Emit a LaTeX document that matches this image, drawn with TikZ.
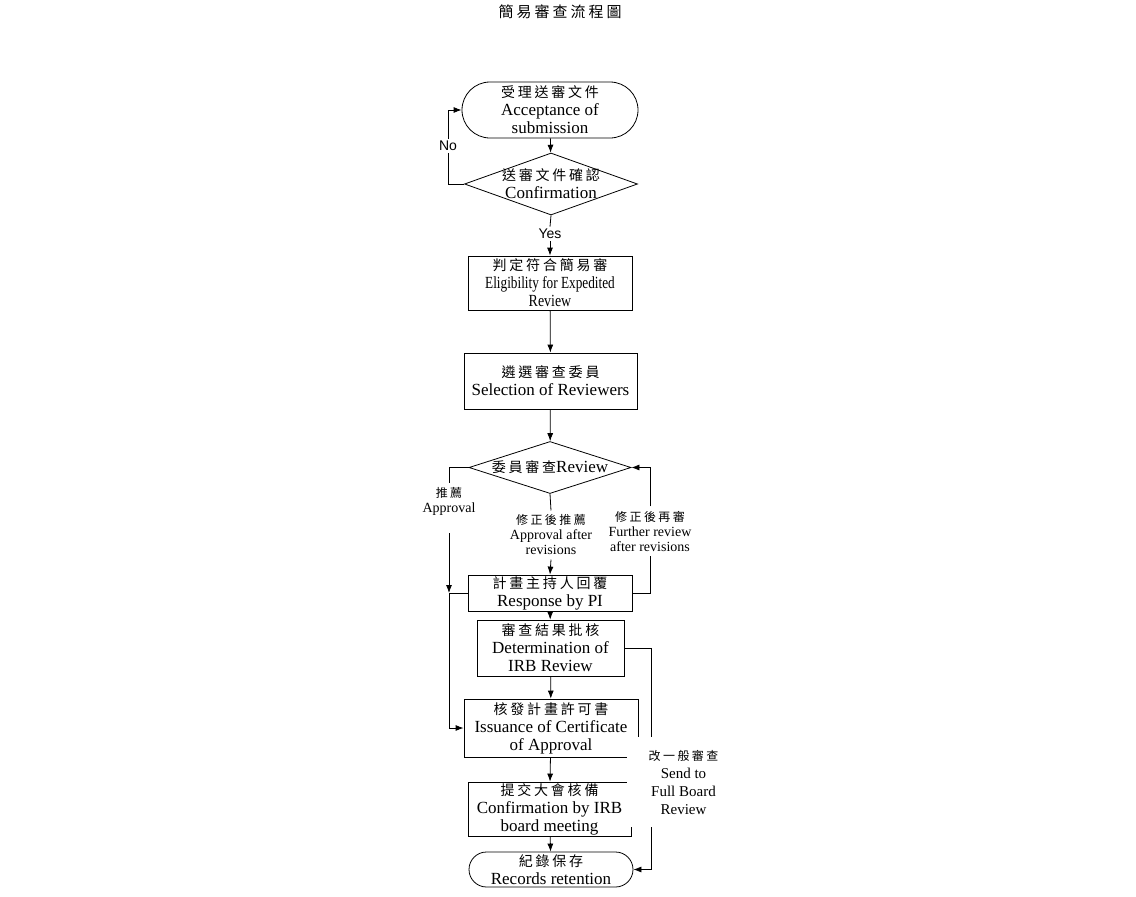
\documentclass[tikz,border=0pt]{standalone}
\usepackage{graphicx}
\usepackage{fontspec}
\setmainfont{Liberation Serif}
\newfontfamily\cjk[LetterSpace=20]{Noto Sans CJK TC}
\newfontfamily\arial{Liberation Sans}
\usetikzlibrary{arrows.meta,shapes.geometric}
\newcommand{\zh}[1]{{\fontsize{14}{18}\cjk #1}}
\newcommand{\zhs}[1]{{\fontsize{12}{15}\cjk #1}}
\begin{document}
\begin{tikzpicture}[x=1pt,y=-1pt,>={Latex[length=8pt,width=6pt]},line width=0.8pt,
  box/.style={draw,rectangle,align=center,inner sep=0pt,font=\fontsize{17}{18}\selectfont},
  decision/.style={draw,diamond,inner sep=0pt},
  dtext/.style={align=center,inner sep=0pt,font=\fontsize{17}{18}\selectfont},
  lbl/.style={inner sep=2pt,font=\fontsize{14}{15}\arial},
  note/.style={align=center,inner sep=4pt,font=\fontsize{14}{15}\selectfont}]
\useasboundingbox (0,0) rectangle (1136,897);
\node (title) at (560,12) {\fontsize{15}{16}\cjk 簡易審查流程圖};
\node[box,rounded corners=28pt,minimum width=176pt,minimum height=56pt] (start) at (550,110) {\zh{受理送審文件}\\Acceptance of\\submission};
\node[decision,minimum width=173pt,minimum height=62pt] (d1) at (551,184) {};
\node[dtext] (d1t) at (d1) {\zh{送審文件確認}\\Confirmation};
\node[box,minimum width=164pt,minimum height=54pt] (elig) at (550,283) {\zh{判定符合簡易審}\\\scalebox{0.78}[1]{Eligibility for Expedited}\\\scalebox{0.82}[1]{Review}};
\node[box,minimum width=173pt,minimum height=56pt] (sel) at (550.5,381) {\zh{遴選審查委員}\\Selection of Reviewers};
\node[decision,minimum width=162pt,minimum height=52pt] (d2) at (550,467.5) {};
\node[dtext] (d2t) at (d2) {\zh{委員審查}Review};
\node[box,minimum width=164pt,minimum height=36pt] (pi) at (550,593) {\zh{計畫主持人回覆}\\Response by PI};
\node[box,minimum width=147pt,minimum height=56pt] (det) at (550.5,648) {\zh{審查結果批核}\\Determination of\\IRB Review};
\node[box,minimum width=174pt,minimum height=58pt] (iss) at (551,728) {\zh{核發計畫許可書}\\Issuance of Certificate\\of Approval};
\node[box,minimum width=163pt,minimum height=54pt] (conf) at (549.5,809) {\zh{提交大會核備}\\Confirmation by IRB\\board meeting};
\node[box,rounded corners=17.5pt,minimum width=164pt,minimum height=35pt] (rec) at (551,869.5) {\zh{紀錄保存}\\Records retention};
% labels on the connectors
\node[lbl] (no) at (448,146) {No};
\node[lbl] (yes) at (550,234) {Yes};
\node[note] (appr) at (449,501) {\zhs{推薦}\\Approval};
\node[note] (arev) at (551,535) {\zhs{修正後推薦}\\Approval after\\revisions};
\node[note] (frev) at (650,531) {\zhs{修正後再審}\\Further review\\after revisions};
\node[note,fill=white,font=\fontsize{15}{18}\selectfont,minimum width=113pt,minimum height=90pt] (full) at (683.5,782) {\zhs{改一般審查}\\Send to\\Full Board\\Review};
\coordinate (rt) at (651,648);
% connectors
\path[draw,->] (start) -- (d1);
\path[draw] (d1.west) -| (no.south);
\path[draw,->] (no.north) |- (start.west);
\path[draw] (d1.south) -- (yes.north);
\path[draw,->] (yes.south) -- (elig.north);
\path[draw,->] (elig) -- (sel);
\path[draw,->] (sel) -- (d2);
\path[draw] (d2.west) -| (appr.north);
\path[draw,->] ([yshift=-14pt]appr.south) -- (appr |- pi.west);
\path[draw] (pi.west) -- (appr |- pi.west);
\path[draw,->] (appr |- pi.west) |- (iss.west);
\path[draw] (d2.south) -- (arev.north);
\path[draw,->] (arev.south) -- (pi.north);
\path[draw] (pi.east) -| (frev.south);
\path[draw,->] (frev.north) |- (d2.east);
\path[draw,->] (pi) -- (det);
\path[draw,->] (det) -- (iss);
\path[draw,->] (iss) -- (conf);
\path[draw,->] (conf) -- (rec);
\path[draw] (det.east) -- (rt) -- (rt |- full.north);
\path[draw,->] (rt |- full.south) |- (rec.east);
\end{tikzpicture}
\end{document}
